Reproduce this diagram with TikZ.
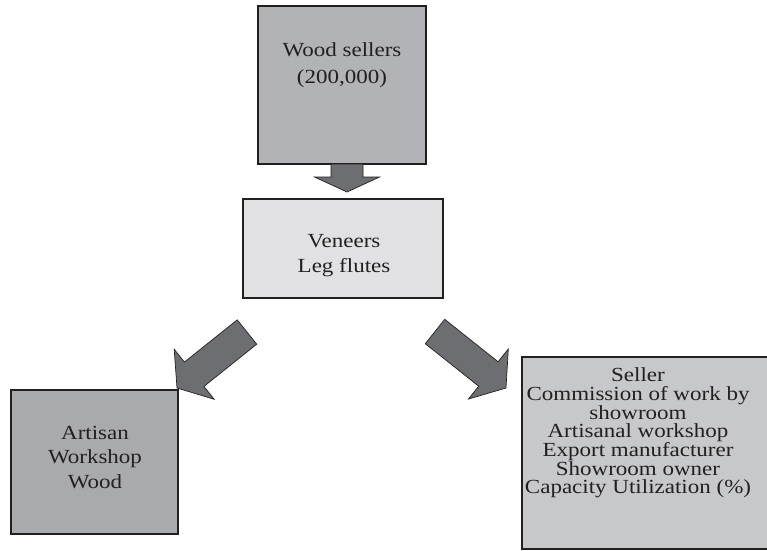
\documentclass[tikz,border=0pt]{standalone}
\usepackage{fontspec}
\setmainfont{Liberation Serif}[FakeStretch=1.15]
\usetikzlibrary{calc}

\definecolor{inkline}{HTML}{231F20}
\definecolor{boxdark}{HTML}{B2B3B6}
\definecolor{boxlight}{HTML}{E1E1E3}
\definecolor{boxmid}{HTML}{A9AAAE}
\definecolor{boxpale}{HTML}{C7C8CA}
\definecolor{arrowgray}{HTML}{6D6E71}

\tikzset{
  panel/.style={draw=inkline, line width=1.1pt, rectangle, inner sep=0pt},
  panelText/.style={align=center, text=inkline, inner sep=0pt,
    font=\fontsize{20}{25}\selectfont},
  blockfill/.style={fill=arrowgray, draw=inkline, line width=0.7pt, line join=miter}
}

% block arrow from tail #1 to tip #2: shaft half-width #3, head half-width #4, head length #5
\newcommand\blockarrow[5]{%
  \coordinate (neck) at ($(#2)!#5!(#1)$);
  \draw[blockfill]
    ($(#1)!#3!90:(#2)$) -- ($(neck)!#3!90:(#2)$) -- ($(neck)!#4!90:(#2)$) --
    (#2) --
    ($(neck)!#4!-90:(#2)$) -- ($(neck)!#3!-90:(#2)$) -- ($(#1)!#3!-90:(#2)$) -- cycle;
}

\begin{document}
\begin{tikzpicture}[x=1pt, y=-1pt]
  \clip (0,0) rectangle (767,550);
  \fill[white] (0,0) rectangle (767,550);

  % boxes
  \node[panel, fill=boxdark, minimum width=168pt, minimum height=158pt] (wood) at (342,85) {};
  \node[panel, fill=boxlight, minimum width=200pt, minimum height=99pt] (veneers) at (343,248.5) {};
  \node[panel, fill=boxmid, minimum width=167pt, minimum height=144pt] (artisan) at (94.5,462) {};
  \node[panel, fill=boxpale, minimum width=250pt, minimum height=192pt] (seller) at (647,453) {};

  % box texts
  \node[panelText, font=\fontsize{20}{27}\selectfont] (woodtext) at (342,65) {Wood sellers\\(200,000)};
  \node[panelText] (veneerstext) at (344,255.5) {Veneers\\Leg flutes};
  \node[panelText, font=\fontsize{20}{24.5}\selectfont] (artisantext) at (95,457.5) {Artisan\\Workshop\\Wood};
  \node[panelText, font=\fontsize{20}{18.7}\selectfont] (sellertext) at (638,433)
    {Seller\\Commission of work by\\showroom\\Artisanal workshop\\Export manufacturer\\Showroom owner\\Capacity Utilization (\%)};

  % flow arrows
  \coordinate (downTail) at (347,164);
  \coordinate (downTip) at (347,192);
  \coordinate (leftTail) at (247,332);
  \coordinate (leftTip) at (177,388);
  \coordinate (rightTail) at (435,331.5);
  \coordinate (rightTip) at (506,388);

  \blockarrow{downTail}{downTip}{16pt}{32.5pt}{15pt}
  \blockarrow{leftTail}{leftTip}{15.6pt}{32pt}{22pt}
  \blockarrow{rightTail}{rightTip}{15.6pt}{32pt}{22.5pt}
\end{tikzpicture}
\end{document}
